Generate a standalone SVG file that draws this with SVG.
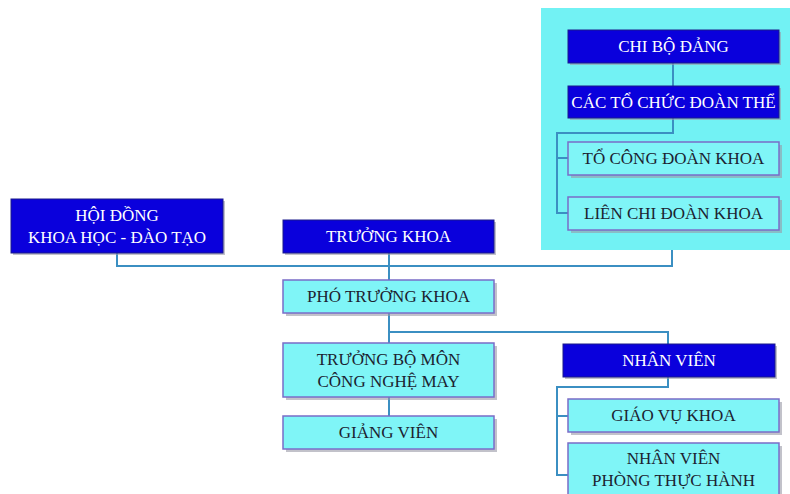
<svg xmlns="http://www.w3.org/2000/svg" width="790" height="494" viewBox="0 0 790 494">
<style>
.dark{fill:#0a00dc;stroke:#1b1b8a;stroke-width:1}
.light{fill:#7ff5f7;stroke:#7a6cc8;stroke-width:1.5}
.sh{fill:#9a9aa6;opacity:0.6}
.t{font-family:"Liberation Serif","Times New Roman",serif;font-size:17px;text-anchor:middle}
.tw{fill:#ffffff}
.tk{fill:#1c2230}
.c{fill:none;stroke:#3b8fc2;stroke-width:2}
</style>
<rect x="541" y="8" width="249" height="242" fill="#72f2f4"/>
<g id="connectors">
<path class="c" d="M673 63V86"/>
<path class="c" d="M673 118V133H557V213H568M557 158H568"/>
<path class="c" d="M117 253V266H672V250"/>
<path class="c" d="M389 253V280"/>
<path class="c" d="M389 313V343M389 332H668V344"/>
<path class="c" d="M389 397V416"/>
<path class="c" d="M668 377V387H557V475H568M557 416H568"/>
</g>
<g id="chibo"><rect class="sh" x="570" y="32" width="211" height="33"/><rect class="dark" x="568" y="30" width="211" height="33"/><text class="t tw" x="673.5" y="52">CHI BỘ ĐẢNG</text></g>
<g id="doanthe"><rect class="sh" x="570" y="88" width="211" height="32"/><rect class="dark" x="568" y="86" width="211" height="32"/><text class="t tw" x="673.5" y="108">CÁC TỔ CHỨC ĐOÀN THỂ</text></g>
<g id="congdoan"><rect class="sh" x="571" y="145" width="211" height="33"/><rect class="light" x="568" y="142" width="211" height="33"/><text class="t tk" x="673.5" y="164">TỔ CÔNG ĐOÀN KHOA</text></g>
<g id="lienchi"><rect class="sh" x="571" y="200" width="211" height="33"/><rect class="light" x="568" y="197" width="211" height="33"/><text class="t tk" x="673.5" y="219">LIÊN CHI ĐOÀN KHOA</text></g>
<g id="hoidong"><rect class="sh" x="13" y="201" width="212" height="54"/><rect class="dark" x="11" y="199" width="212" height="54"/><text class="t tw" x="117" y="221">HỘI ĐỒNG</text><text class="t tw" x="117" y="243">KHOA HỌC - ĐÀO TẠO</text></g>
<g id="truongkhoa"><rect class="sh" x="285" y="222" width="211" height="33"/><rect class="dark" x="283" y="220" width="211" height="33"/><text class="t tw" x="388.5" y="242">TRƯỞNG KHOA</text></g>
<g id="photruong"><rect class="sh" x="286" y="283" width="211" height="33"/><rect class="light" x="283" y="280" width="211" height="33"/><text class="t tk" x="388.5" y="302">PHÓ TRƯỞNG KHOA</text></g>
<g id="truongbomon"><rect class="sh" x="286" y="346" width="211" height="54"/><rect class="light" x="283" y="343" width="211" height="54"/><text class="t tk" x="388.5" y="365">TRƯỞNG BỘ MÔN</text><text class="t tk" x="388.5" y="387">CÔNG NGHỆ MAY</text></g>
<g id="giangvien"><rect class="sh" x="286" y="419" width="211" height="33"/><rect class="light" x="283" y="416" width="211" height="33"/><text class="t tk" x="388.5" y="438">GIẢNG VIÊN</text></g>
<g id="nhanvien"><rect class="sh" x="565" y="346" width="212" height="33"/><rect class="dark" x="563" y="344" width="212" height="33"/><text class="t tw" x="669" y="366">NHÂN VIÊN</text></g>
<g id="giaovu"><rect class="sh" x="571" y="402" width="211" height="33"/><rect class="light" x="568" y="399" width="211" height="33"/><text class="t tk" x="673.5" y="421">GIÁO VỤ KHOA</text></g>
<g id="phongthuchanh"><rect class="sh" x="571" y="446" width="211" height="52"/><rect class="light" x="568" y="443" width="211" height="52"/><text class="t tk" x="673.5" y="464">NHÂN VIÊN</text><text class="t tk" x="673.5" y="486">PHÒNG THỰC HÀNH</text></g>
</svg>
